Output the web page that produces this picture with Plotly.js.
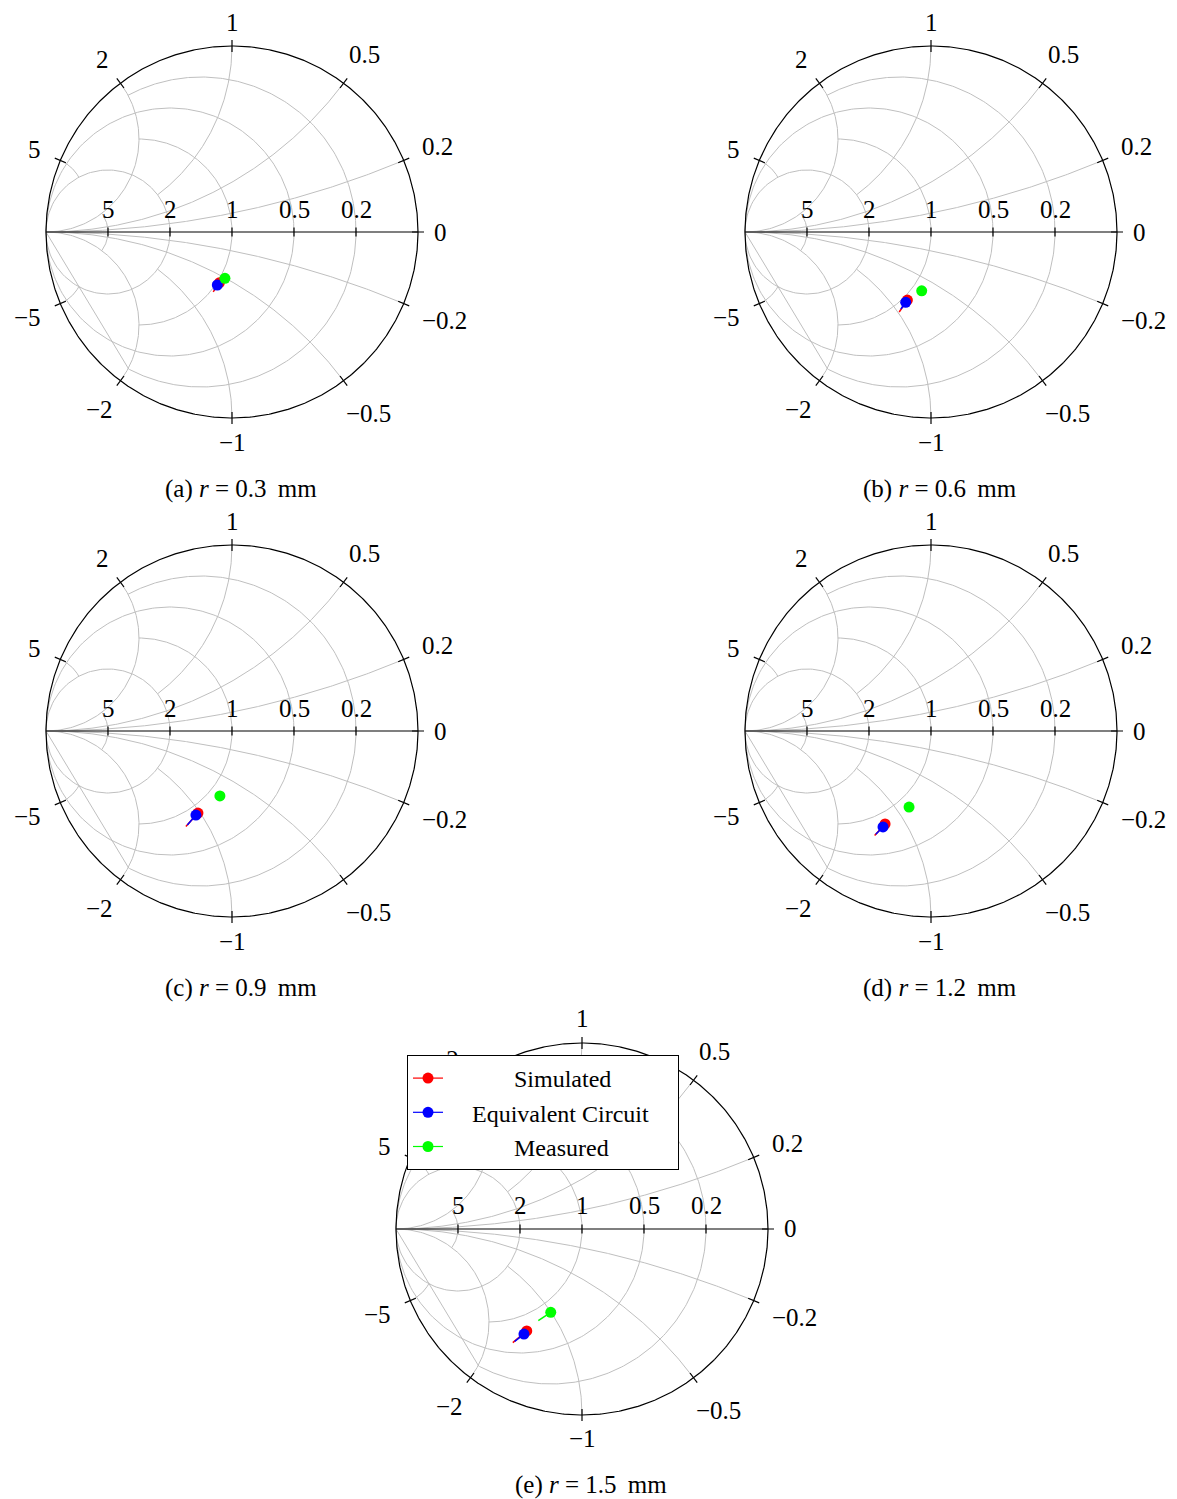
<!DOCTYPE html>
<html><head><meta charset="utf-8">
<script src="https://cdn.plot.ly/plotly-3.0.1.min.js"></script>
<style>html,body{margin:0;padding:0;background:#fff}</style>
</head><body><div id="chart" style="width:1177px;height:1499px"></div>
<script>
// ---------------- data ----------------
const caseLabels = ['(a)', '(b)', '(c)', '(d)', '(e)'];
const radiusMm = [0.3, 0.6, 0.9, 1.2, 1.5];
const seriesNames = ['Simulated', 'Equivalent Circuit', 'Measured'];
const seriesColors = ['#ff0000', '#0000ff', '#00ff00'];
// reflection coefficient (real / imag) per case: [first point (marked), last point]
const simRe  = [[-0.068, -0.101], [-0.127, -0.171], [-0.183, -0.248], [-0.247, -0.303], [-0.297, -0.372]];
const simIm  = [[-0.273, -0.322], [-0.366, -0.430], [-0.441, -0.514], [-0.500, -0.562], [-0.548, -0.611]];
const eqRe   = [[-0.079, -0.097], [-0.136, -0.162], [-0.194, -0.240], [-0.258, -0.297], [-0.312, -0.362]];
const eqIm   = [[-0.285, -0.312], [-0.378, -0.414], [-0.452, -0.505], [-0.516, -0.555], [-0.565, -0.604]];
const measRe = [[-0.038, -0.043], [-0.050, -0.055], [-0.065, -0.070], [-0.118, -0.123], [-0.168, -0.235]];
const measIm = [[-0.249, -0.254], [-0.316, -0.321], [-0.349, -0.354], [-0.409, -0.414], [-0.448, -0.493]];
// Smith (admittance) grid
const gridG = [0.2, 0.5, 1, 2, 5];
const gridGStopB = [2, null, 2, null, 2];
const gridB = [0.2, 0.5, 1, 2, 5];
const gridBStopG = [null, null, 2, null, 2];
const rimTicks = [0, 0.2, 0.5, 1, 2, 5, -0.2, -0.5, -1, -2, -5];
const axisTicks = [5, 2, 1, 0.5, 0.2];

// ---------------- layout constants ----------------
const W = 1177, H = 1499, R = 186, EXT = 1.2;
const panelCx = [232, 931, 232, 931, 582];
const panelCy = [232, 232, 731, 731, 1229];
const capX = [241, 940, 241, 940, 591];
const capY = [489, 489, 988, 988, 1485];
const SERIF = 'Liberation Serif, Times New Roman, serif';
const TICKFONT = {family: SERIF, size: 25, color: '#000'};
const TXTFONT = {family: SERIF, size: 25, color: '#000'};
const NB = '\u00a0';
const legendPadL = [11, 4, 11];
const legendPadR = [0, 4, 0];
const LEG = {left: 407, top: 1055, right: 682, bottom: 1164};

// normalized admittance y = g + jb  ->  chart point
function toW(g, b) {
  const nr = 1 - g, ni = b, dr = 1 + g, di = -b;
  const den = dr * dr + di * di;
  return [(nr * dr + ni * di) / den, (ni * dr - nr * di) / den];
}
function fmt(v) { return v < 0 ? '\u2212' + Math.abs(v) : String(v); }

const traces = [];
const layout = {
  width: W, height: H, margin: {l: 0, r: 0, t: 0, b: 0},
  paper_bgcolor: '#fff', plot_bgcolor: 'rgba(0,0,0,0)',
  showlegend: true,
  legend: {
    x: LEG.left / W, y: 1 - LEG.top / H, xanchor: 'left', yanchor: 'top',
    bgcolor: '#fff', bordercolor: '#000', borderwidth: 1,
    font: {family: SERIF, size: 24, color: '#000'},
    tracegroupgap: 0
  },
  annotations: [],
  shapes: []
};

for (let p = 0; p < 5; p++) {
  const sfx = p === 0 ? '' : String(p + 1);
  const xr = 'x' + sfx, yr = 'y' + sfx;
  const cx = panelCx[p], cy = panelCy[p], half = EXT * R;
  layout['xaxis' + sfx] = {domain: [(cx - half) / W, (cx + half) / W], range: [-EXT, EXT], visible: false, fixedrange: true};
  layout['yaxis' + sfx] = {domain: [1 - (cy + half) / H, 1 - (cy - half) / H], range: [-EXT, EXT], visible: false, fixedrange: true};

  // grey grid
  const gx = [], gy = [];
  gridG.forEach((g, i) => {
    const stop = gridGStopB[i];
    const N = 361;
    for (let k = 0; k < N; k++) {
      const t = -1 + 2 * k / (N - 1);
      const b = stop === null ? Math.tan(t * Math.PI / 2 * 0.9999) : stop * t;
      const w = toW(g, b); gx.push(w[0]); gy.push(w[1]);
    }
    if (stop === null) { gx.unshift(-1); gy.unshift(0); gx.push(-1); gy.push(0); }
    gx.push(null); gy.push(null);
  });
  gridB.forEach((bv, i) => {
    const stop = gridBStopG[i];
    [bv, -bv].forEach(b => {
      const N = 241;
      for (let k = 0; k < N; k++) {
        const t = k / (N - 1);
        const g = stop === null ? Math.tan(t * Math.PI / 2 * 0.9999) : stop * t;
        const w = toW(g, b); gx.push(w[0]); gy.push(w[1]);
      }
      if (stop === null) { gx.push(-1); gy.push(0); }
      gx.push(null); gy.push(null);
    });
  });
  traces.push({type: 'scatter', mode: 'lines', x: gx, y: gy, xaxis: xr, yaxis: yr,
    line: {color: '#bfbfbf', width: 1}, hoverinfo: 'skip', showlegend: false});

  // black frame: outer circle, real axis, ticks
  const bx = [], by = [];
  for (let k = 0; k <= 720; k++) { const a = 2 * Math.PI * k / 720; bx.push(Math.cos(a)); by.push(Math.sin(a)); }
  bx.push(null); by.push(null);
  bx.push(-1, 1, null); by.push(0, 0, null);
  const tl = 6 / R;
  rimTicks.forEach(b => {
    const w = toW(0, b);
    bx.push(w[0] * (1 - tl), w[0] * (1 + tl), null); by.push(w[1] * (1 - tl), w[1] * (1 + tl), null);
  });
  axisTicks.forEach(g => {
    const w = toW(g, 0);
    bx.push(w[0], w[0], null); by.push(-4.5 / R, 4.5 / R, null);
  });
  traces.push({type: 'scatter', mode: 'lines', x: bx, y: by, xaxis: xr, yaxis: yr,
    line: {color: '#000', width: 1.2}, hoverinfo: 'skip', showlegend: false});

  // labels on rim
  rimTicks.forEach(b => {
    const th = 2 * Math.atan(b);
    const s = fmt(b);
    let wpx = 0;
    for (const ch of s) wpx += ch === '.' ? 6.7 : (ch === '\u2212' ? 18.7 : 12);
    const d = R + 16 + 4 * Math.abs(Math.sin(2 * th)) + Math.abs(Math.cos(th)) * wpx / 2 + Math.abs(Math.sin(th)) * 8;
    const lx = d / R * Math.cos(th), ly = d / R * Math.sin(th);
    // pixel position, to know whether the legend box covers this label
    const px = cx + lx * R, py = cy - ly * R;
    const covered = px > LEG.left && px < LEG.right && py > LEG.top && py < LEG.bottom;
    if (covered) {
      // drawn beneath the legend box, like the reference
      layout.shapes.push({type: 'line', xref: xr, yref: yr, x0: lx, x1: lx, y0: ly, y1: ly,
        layer: 'above', line: {width: 0, color: 'rgba(0,0,0,0)'},
        label: {text: s, font: TICKFONT, textposition: 'middle', textangle: 0,
          xanchor: 'center', yanchor: 'middle', padding: 0}});
    } else {
      layout.annotations.push({xref: xr, yref: yr, x: lx, y: ly,
        text: s, showarrow: false, xanchor: 'center', yanchor: 'middle', font: TICKFONT});
    }
  });
  // labels on the real axis
  axisTicks.forEach(g => {
    const w = toW(g, 0);
    layout.annotations.push({xref: xr, yref: yr, x: w[0], y: 0, yshift: 23,
      text: String(g), showarrow: false, xanchor: 'center', yanchor: 'middle', font: TICKFONT});
  });
  // caption
  layout.annotations.push({xref: 'paper', yref: 'paper', x: capX[p] / W, y: 1 - capY[p] / H,
    text: caseLabels[p] + ' <i>r</i> = ' + radiusMm[p].toFixed(1) + ' \u2009mm', showarrow: false,
    xanchor: 'center', yanchor: 'middle', font: TXTFONT});

  // data
  const re = [simRe, eqRe, measRe], im = [simIm, eqIm, measIm];
  for (let s = 0; s < 3; s++) {
    traces.push({type: 'scatter', mode: 'lines+markers', name: seriesNames[s], legendgroup: seriesNames[s],
      showlegend: false, x: re[s][p], y: im[s][p], xaxis: xr, yaxis: yr,
      line: {color: seriesColors[s], width: 1.5},
      marker: {color: seriesColors[s], size: [11, 0], opacity: 1, line: {width: 0}},
      hoverinfo: 'skip'});
  }
}
// legend entries (style only, no marks)
for (let s = 0; s < 3; s++) {
  traces.push({type: 'scatter', mode: 'lines+markers', legendgroup: seriesNames[s],
    name: NB.repeat(legendPadL[s]) + seriesNames[s] + NB.repeat(legendPadR[s]),
    x: [null], y: [null], xaxis: 'x5', yaxis: 'y5', showlegend: true,
    line: {color: seriesColors[s], width: 1.2},
    marker: {color: seriesColors[s], size: 11, line: {width: 0}}, hoverinfo: 'skip'});
}

Plotly.newPlot('chart', traces, layout, {staticPlot: true, displayModeBar: false});
</script></body></html>
